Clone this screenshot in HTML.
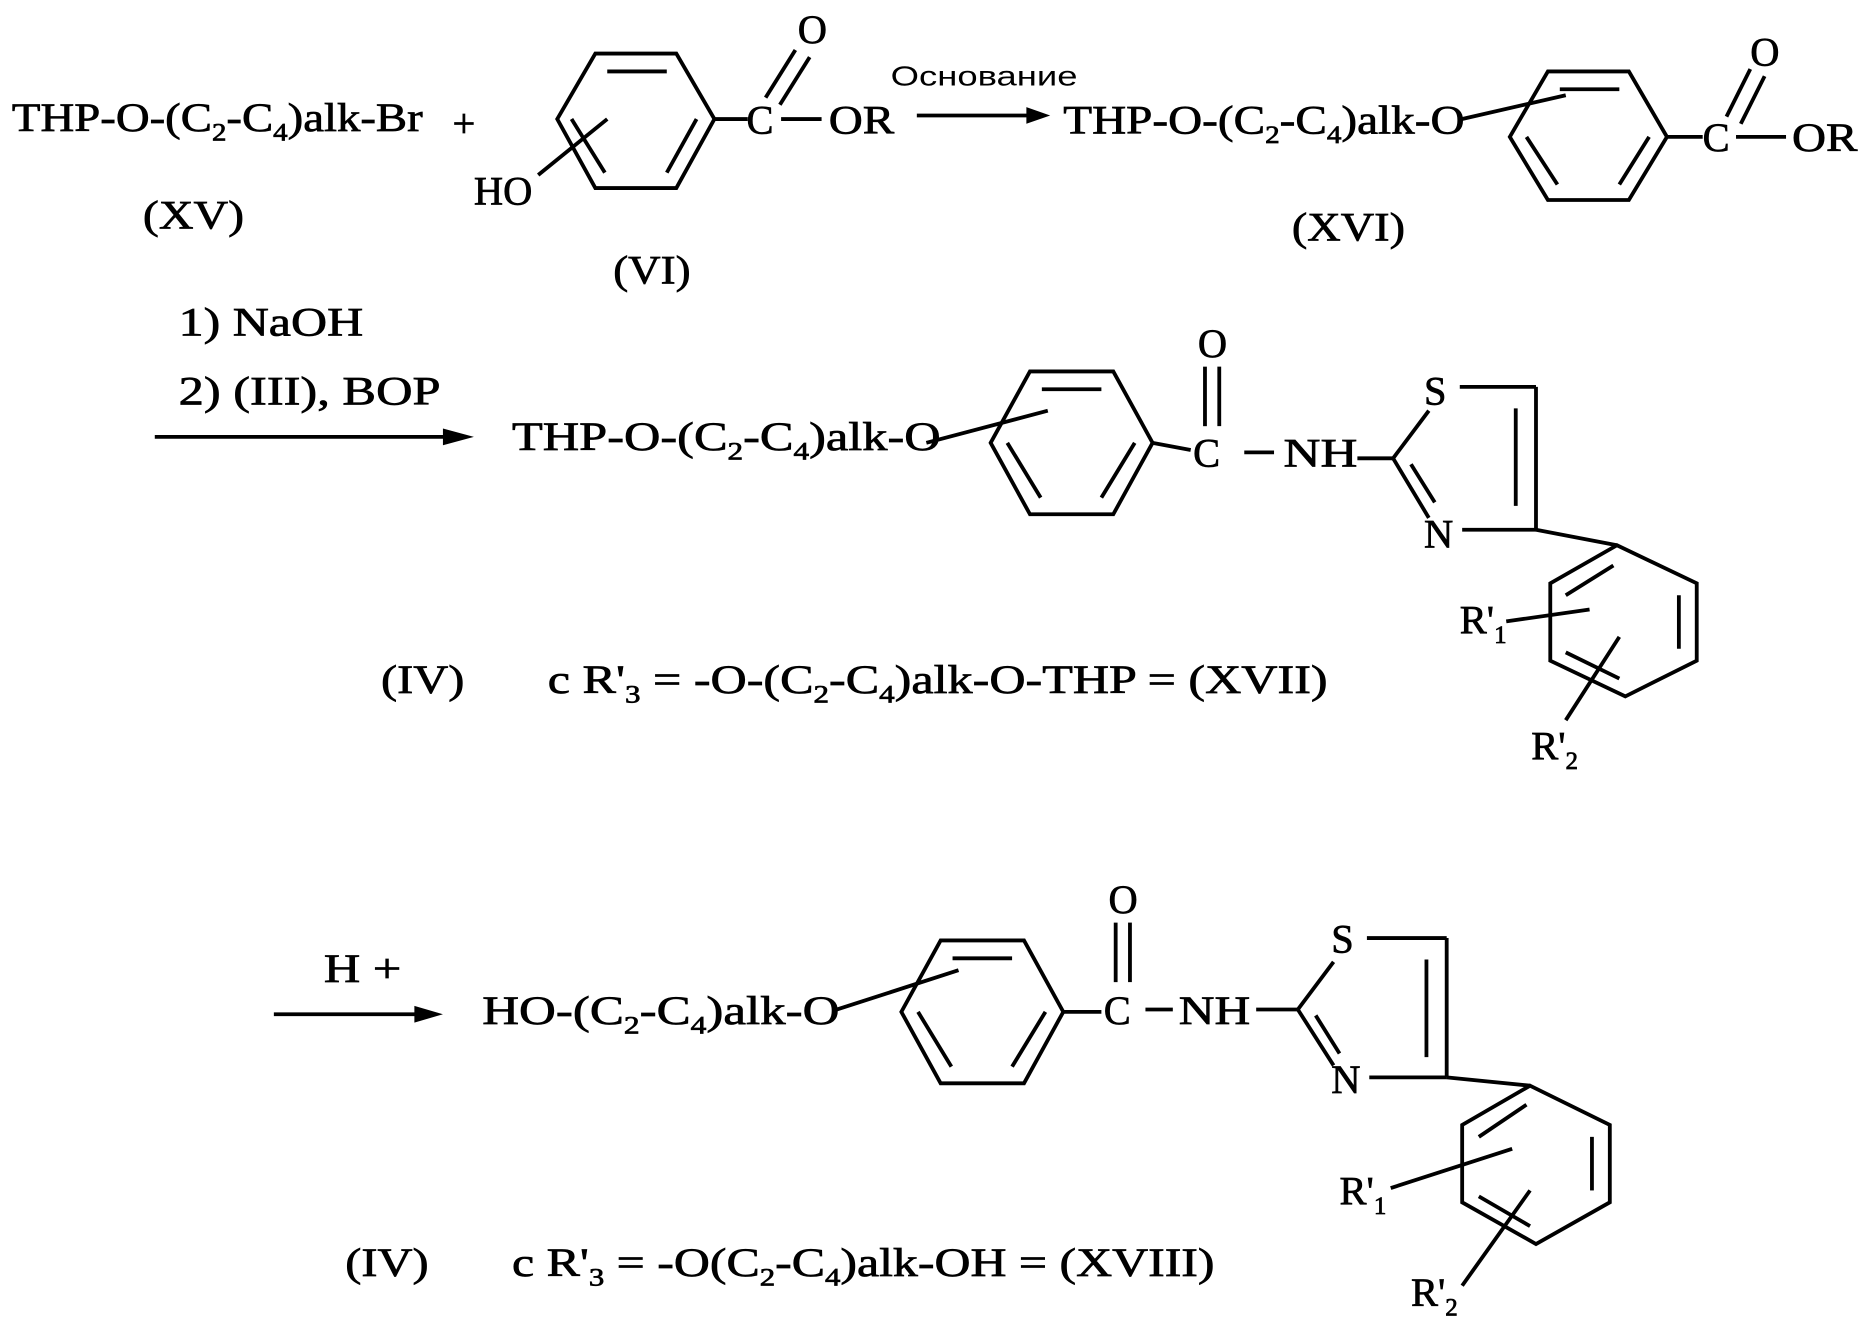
<!DOCTYPE html>
<html><head><meta charset="utf-8"><style>
html,body{margin:0;padding:0;background:#fff;}
svg{display:block}
text{font-family:"Liberation Serif",serif;font-size:34px;fill:#000;stroke:#000;stroke-width:0.6}
.s{font-family:"Liberation Sans",sans-serif;font-size:23px;stroke-width:0}
.sub{font-size:21px}
</style></head><body>
<svg width="1867" height="1344" viewBox="0 0 1568 1129" preserveAspectRatio="none" xmlns="http://www.w3.org/2000/svg">
<g stroke="#000" stroke-width="3.2" fill="none">
<polygon points="468,100 500,45 568,45 600,100 568,158 500,158"/>
<line x1="510" y1="60" x2="560" y2="60"/><line x1="585" y1="100" x2="560" y2="145"/><line x1="508" y1="145" x2="480" y2="100"/>
<line x1="452" y1="147" x2="510" y2="100"/>
<line x1="600" y1="100" x2="628" y2="100"/>
<line x1="643" y1="82" x2="668" y2="42"/><line x1="655" y1="88" x2="680" y2="48"/>
<line x1="656" y1="100" x2="690" y2="100"/>
<line x1="770" y1="97" x2="870" y2="97"/>
<polygon points="1268,115 1300,60 1368,60 1400,115 1368,168 1300,168"/>
<line x1="1310" y1="75" x2="1360" y2="75"/><line x1="1385" y1="115" x2="1360" y2="155"/><line x1="1308" y1="155" x2="1282" y2="115"/>
<line x1="1228" y1="100" x2="1315" y2="80"/>
<line x1="1400" y1="115" x2="1430" y2="115"/>
<line x1="1450" y1="98" x2="1470" y2="58"/><line x1="1462" y1="104" x2="1482" y2="64"/>
<line x1="1458" y1="115" x2="1500" y2="115"/>
<line x1="130" y1="367" x2="385" y2="367"/>
<polygon points="832,372 865,312 935,312 968,372 935,432 865,432"/>
<line x1="875" y1="327" x2="925" y2="327"/><line x1="953" y1="372" x2="925" y2="418"/><line x1="874" y1="418" x2="846" y2="372"/>
<line x1="778" y1="372" x2="880" y2="345"/>
<line x1="968" y1="372" x2="1000" y2="378"/>
<line x1="1012" y1="308" x2="1012" y2="358"/><line x1="1024" y1="308" x2="1024" y2="358"/>
<line x1="1045" y1="380" x2="1070" y2="380"/>
<line x1="1140" y1="385" x2="1170" y2="385"/>
<line x1="1170" y1="385" x2="1200" y2="345"/>
<line x1="1226" y1="325" x2="1290" y2="325"/>
<line x1="1290" y1="325" x2="1290" y2="445"/><line x1="1273" y1="343" x2="1273" y2="425"/>
<line x1="1170" y1="385" x2="1200" y2="435"/><line x1="1185" y1="390" x2="1205" y2="422"/>
<line x1="1228" y1="445" x2="1290" y2="445"/>
<line x1="1290" y1="445" x2="1358" y2="458"/>
<polygon points="1358,458 1425,490 1425,555 1365,585 1302,555 1302,490"/>
<line x1="1410" y1="500" x2="1410" y2="545"/><line x1="1360" y1="570" x2="1315" y2="548"/><line x1="1315" y1="500" x2="1355" y2="475"/>
<line x1="1265" y1="522" x2="1335" y2="512"/>
<line x1="1315" y1="605" x2="1360" y2="535"/>
<line x1="230" y1="852" x2="360" y2="852"/>
<polygon points="757,850 790,790 860,790 893,850 860,910 790,910"/>
<line x1="800" y1="805" x2="850" y2="805"/><line x1="878" y1="850" x2="850" y2="896"/><line x1="799" y1="896" x2="771" y2="850"/>
<line x1="703" y1="848" x2="805" y2="815"/>
<line x1="893" y1="850" x2="925" y2="850"/>
<line x1="937" y1="775" x2="937" y2="825"/><line x1="949" y1="775" x2="949" y2="825"/>
<line x1="962" y1="848" x2="985" y2="848"/>
<line x1="1055" y1="848" x2="1090" y2="848"/>
<line x1="1090" y1="848" x2="1120" y2="808"/>
<line x1="1148" y1="788" x2="1215" y2="788"/>
<line x1="1215" y1="788" x2="1215" y2="905"/><line x1="1198" y1="806" x2="1198" y2="888"/>
<line x1="1090" y1="848" x2="1120" y2="895"/><line x1="1105" y1="853" x2="1125" y2="885"/>
<line x1="1150" y1="905" x2="1215" y2="905"/>
<line x1="1215" y1="905" x2="1285" y2="912"/>
<polygon points="1285,912 1352,945 1352,1010 1290,1045 1228,1010 1228,945"/>
<line x1="1337" y1="955" x2="1337" y2="1000"/><line x1="1285" y1="1030" x2="1242" y2="1005"/><line x1="1242" y1="955" x2="1282" y2="928"/>
<line x1="1168" y1="998" x2="1270" y2="965"/>
<line x1="1228" y1="1080" x2="1285" y2="1000"/>
</g>
<g fill="#000">
<polygon points="882,97 862,90 862,104"/>
<polygon points="398,367 372,360 372,374"/>
<polygon points="372,852 348,845 348,859"/>
</g>
<text x="10" y="110" textLength="345" lengthAdjust="spacingAndGlyphs">THP-O-(C<tspan class="sub" dy="8">2</tspan><tspan dy="-8">-C</tspan><tspan class="sub" dy="8">4</tspan><tspan dy="-8">)alk-Br</tspan></text>
<text x="380" y="115">+</text>
<text x="120" y="192" textLength="85" lengthAdjust="spacingAndGlyphs">(XV)</text>
<text x="398" y="172">HO</text>
<text x="627" y="112">C</text>
<text x="670" y="36">O</text>
<text x="696" y="112" textLength="55" lengthAdjust="spacingAndGlyphs">OR</text>
<text x="515" y="238" textLength="65" lengthAdjust="spacingAndGlyphs">(VI)</text>
<text class="s" x="748" y="72" textLength="157" lengthAdjust="spacingAndGlyphs">Основание</text>
<text x="893" y="112" textLength="337" lengthAdjust="spacingAndGlyphs">THP-O-(C<tspan class="sub" dy="8">2</tspan><tspan dy="-8">-C</tspan><tspan class="sub" dy="8">4</tspan><tspan dy="-8">)alk-O</tspan></text>
<text x="1430" y="127">C</text>
<text x="1470" y="55">O</text>
<text x="1505" y="127" textLength="55" lengthAdjust="spacingAndGlyphs">OR</text>
<text x="1085" y="202" textLength="95" lengthAdjust="spacingAndGlyphs">(XVI)</text>
<text x="150" y="282" textLength="155" lengthAdjust="spacingAndGlyphs">1) NaOH</text>
<text x="150" y="340" textLength="220" lengthAdjust="spacingAndGlyphs">2) (III), BOP</text>
<text x="430" y="378" textLength="360" lengthAdjust="spacingAndGlyphs">THP-O-(C<tspan class="sub" dy="8">2</tspan><tspan dy="-8">-C</tspan><tspan class="sub" dy="8">4</tspan><tspan dy="-8">)alk-O</tspan></text>
<text x="1002" y="392">C</text>
<text x="1006" y="300">O</text>
<text x="1078" y="392" textLength="62" lengthAdjust="spacingAndGlyphs">NH</text>
<text x="1196" y="340">S</text>
<text x="1196" y="460">N</text>
<text x="1226" y="532">R'<tspan class="sub" dy="8">1</tspan></text>
<text x="1286" y="638">R'<tspan class="sub" dy="8">2</tspan></text>
<text x="320" y="582" textLength="70" lengthAdjust="spacingAndGlyphs">(IV)</text>
<text x="460" y="582" textLength="655" lengthAdjust="spacingAndGlyphs">c R'<tspan class="sub" dy="8">3</tspan><tspan dy="-8"> = -O-(C</tspan><tspan class="sub" dy="8">2</tspan><tspan dy="-8">-C</tspan><tspan class="sub" dy="8">4</tspan><tspan dy="-8">)alk-O-THP = (XVII)</tspan></text>
<text x="272" y="825" textLength="65" lengthAdjust="spacingAndGlyphs">H +</text>
<text x="405" y="860" textLength="300" lengthAdjust="spacingAndGlyphs">HO-(C<tspan class="sub" dy="8">2</tspan><tspan dy="-8">-C</tspan><tspan class="sub" dy="8">4</tspan><tspan dy="-8">)alk-O</tspan></text>
<text x="927" y="860">C</text>
<text x="931" y="767">O</text>
<text x="990" y="860" textLength="60" lengthAdjust="spacingAndGlyphs">NH</text>
<text x="1118" y="800">S</text>
<text x="1118" y="918">N</text>
<text x="1125" y="1012">R'<tspan class="sub" dy="8">1</tspan></text>
<text x="1185" y="1097">R'<tspan class="sub" dy="8">2</tspan></text>
<text x="290" y="1072" textLength="70" lengthAdjust="spacingAndGlyphs">(IV)</text>
<text x="430" y="1072" textLength="590" lengthAdjust="spacingAndGlyphs">c R'<tspan class="sub" dy="8">3</tspan><tspan dy="-8"> = -O(C</tspan><tspan class="sub" dy="8">2</tspan><tspan dy="-8">-C</tspan><tspan class="sub" dy="8">4</tspan><tspan dy="-8">)alk-OH = (XVIII)</tspan></text>
</svg>
</body></html>
